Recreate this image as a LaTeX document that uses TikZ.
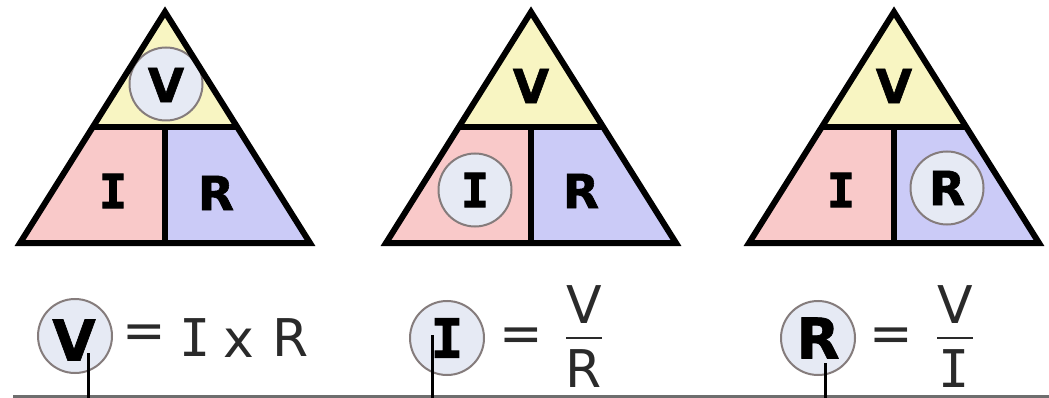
\documentclass[tikz,border=0pt]{standalone}
\usepackage{fontspec}
\setmainfont{DejaVu Sans}
\newfontfamily\monof{DejaVu Sans Mono}
\newfontfamily\heavyf{DejaVu Sans Bold}[FakeBold=1.2]
\newfontfamily\heavymono{DejaVu Sans Mono Bold}[FakeBold=2]
\definecolor{tyel}{HTML}{F8F5C2}
\definecolor{tpink}{HTML}{F9C9C9}
\definecolor{tblue}{HTML}{CBCBF7}
\definecolor{cfill}{HTML}{E6EAF4}
\definecolor{cline}{HTML}{857C7C}
\definecolor{baseg}{HTML}{6E6E6E}
\definecolor{eqink}{HTML}{2A2A2A}
\begin{document}
\begin{tikzpicture}[x=1pt,y=-1pt,
  outline/.style={line width=6pt, line join=miter, black},
  tletter/.style={inner sep=0pt, font=\fontsize{47}{47}\selectfont\heavyf},
  tletterI/.style={inner sep=0pt, font=\fontsize{47}{47}\selectfont\heavymono},
  ring/.style={circle, draw=cline, fill=cfill, line width=2pt, minimum size=73pt, inner sep=0pt},
  bigring/.style={circle, draw=cline, fill=cfill, line width=2pt, minimum size=74pt, inner sep=0pt},
  bletter/.style={inner sep=0pt, font=\fontsize{56}{56}\selectfont\heavyf},
  bletterI/.style={inner sep=0pt, font=\fontsize{54}{54}\selectfont\heavymono},
  eqtext/.style={inner sep=0pt, text=eqink, font=\fontsize{52}{52}\selectfont},
  eqtextI/.style={inner sep=0pt, text=eqink, font=\fontsize{52}{52}\selectfont\monof},
  stub/.style={line width=3pt, black},
  fracbar/.style={line width=2.6pt, eqink},
]
\useasboundingbox (0,0) rectangle (1049,398);

% ---------- triangles ----------
\foreach \cx/\p in {165/a,531/b,894/c}{
  \begin{scope}[shift={(\cx,0)}]
    \coordinate (\p apex) at (0,12);
    \coordinate (\p bl) at (-145,243);
    \coordinate (\p br) at (145,243);
    \coordinate (\p ml) at (-72.5,127);
    \coordinate (\p mr) at (72.5,127);
    \coordinate (\p mt) at (0,127);
    \coordinate (\p mb) at (0,243);
    \fill[tyel] (\p apex) -- (\p ml) -- (\p mr) -- cycle;
    \fill[tpink] (\p ml) -- (\p mt) -- (\p mb) -- (\p bl) -- cycle;
    \fill[tblue] (\p mt) -- (\p mr) -- (\p br) -- (\p mb) -- cycle;
  \end{scope}
}

% highlight circles inside triangles
\node[ring] (aring) at (166,84) {};
\node[ring] (bring) at (475,190) {};
\node[ring] (cring) at (947,188) {};

\foreach \p in {a,b,c}{
  \draw[outline] (\p apex) -- (\p br) -- (\p bl) -- cycle;
  \draw[outline] (\p ml) -- (\p mr);
  \draw[outline] (\p mt) -- (\p mb);
}

% letters in triangles
\node[tletter]  (aV) at (166,85) {V};
\node[tletterI] (aI) at (113,191) {I};
\node[tletter]  (aR) at (216,193) {R};
\node[tletter]  (bV) at (531,86) {V};
\node[tletterI] (bI) at (475,190) {I};
\node[tletter]  (bR) at (581,191) {R};
\node[tletter]  (cV) at (894,86) {V};
\node[tletterI] (cI) at (841,190) {I};
\node[tletter]  (cR) at (947,188) {R};

% ---------- formulas ----------
% V = I x R
\node[bigring] (eqVring) at (75,336) {};
\node[bletter] (eqV) at (74,340) {V};
\node[eqtext] (eqVeq) at (144,337) {=};
\node[eqtextI] (eqVI) at (195,338) {I};
\node[eqtext] (eqVx) at (239,343) {x};
\node[eqtext] (eqVR) at (291,338) {R};

% I = V / R
\node[bigring] (eqIring) at (447,338) {};
\node[bletterI] (eqI) at (447,338) {I};
\node[eqtext] (eqIeq) at (521,340) {=};
\node[eqtext] (eqInum) at (584,305) {V};
\node[eqtext] (eqIden) at (584,369) {R};
\draw[fracbar] (eqInum.south west |- 0,338) coordinate (ib1) -- (eqInum.south east |- 0,338) coordinate (ib2);

% R = V / I
\node[bigring] (eqRring) at (818,338) {};
\node[bletter] (eqR) at (818,338) {R};
\node[eqtext] (eqReq) at (891,340) {=};
\node[eqtext] (eqRnum) at (955,305) {V};
\node[eqtextI] (eqRden) at (954,369) {I};
\draw[fracbar] (eqRnum.south west |- 0,338) coordinate (rb1) -- (eqRnum.south east |- 0,338) coordinate (rb2);

% ---------- base line and stubs ----------
\coordinate (baseL) at (13,396.5);
\coordinate (baseR) at (1049,396.5);
\draw[baseg, line width=3pt] (baseL) -- (baseR);

\coordinate (vtop) at (88,353);
\coordinate (vbot) at (88,398);
\coordinate (itop) at (432,335);
\coordinate (ibot) at (432,398);
\coordinate (rtop) at (825,363);
\coordinate (rbot) at (825,398);
\draw[stub] (vtop) -- (vbot);
\draw[stub] (itop) -- (ibot);
\draw[stub] (rtop) -- (rbot);
\end{tikzpicture}
\end{document}
